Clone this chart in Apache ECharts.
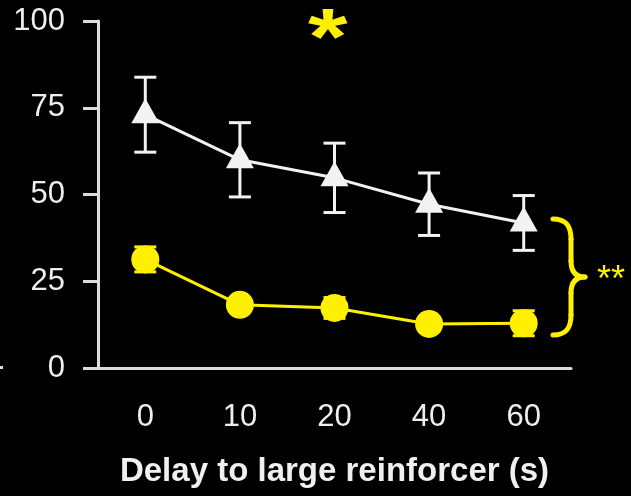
<!DOCTYPE html>
<html>
<head>
<meta charset="utf-8">
<script src="https://cdn.jsdelivr.net/npm/echarts@6/dist/echarts.min.js"></script>
<style>
html,body{margin:0;padding:0;background:#000;}
#chart{width:631px;height:496px;}
</style>
</head>
<body>
<div id="chart"></div>
<script>
const categories = ['0', '10', '20', '40', '60'];
const whiteMean = [73, 60, 54.8, 47.2, 41.8];
const whiteErr = [10.8, 10.7, 10, 9, 7.9];
const yellowMean = [31.3, 18.2, 17.3, 12.7, 12.9];
const yellowErr = [3.6, 2, 3, 2, 3.6];
const xTitle = 'Delay to large reinforcer (s)';

const WHITE = '#f2f2f2';
const YELLOW = '#fff000';
const AXIS = '#dcdcdc';

const chart = echarts.init(document.getElementById('chart'));

function errData(mean, err) {
  return mean.map((m, i) => [i, m - err[i], m + err[i]]);
}
function errRender(color) {
  return function (params, api) {
    const x = api.value(0);
    const lo = api.coord([x, api.value(1)]);
    const hi = api.coord([x, api.value(2)]);
    const half = 11;
    const style = { stroke: color, lineWidth: 3, fill: null };
    return {
      type: 'group',
      children: [
        { type: 'line', shape: { x1: lo[0], y1: lo[1], x2: hi[0], y2: hi[1] }, style },
        { type: 'line', shape: { x1: lo[0] - half, y1: lo[1], x2: lo[0] + half, y2: lo[1] }, style },
        { type: 'line', shape: { x1: hi[0] - half, y1: hi[1], x2: hi[0] + half, y2: hi[1] }, style }
      ]
    };
  };
}

const braceStyle = { stroke: YELLOW, lineWidth: 5, fill: null, lineCap: 'round' };
function bez(x1, y1, c1x, c1y, c2x, c2y, x2, y2) {
  return { type: 'bezierCurve', shape: { x1, y1, cpx1: c1x, cpy1: c1y, cpx2: c2x, cpy2: c2y, x2, y2 }, style: braceStyle, z: 10 };
}
function seg(x1, y1, x2, y2) {
  return { type: 'line', shape: { x1, y1, x2, y2 }, style: braceStyle, z: 10 };
}

const option = {
  backgroundColor: '#000',
  animation: false,
  grid: { left: 98, right: 60, top: 21, bottom: 128, containLabel: false },
  xAxis: {
    type: 'category',
    data: categories,
    boundaryGap: true,
    axisLine: { lineStyle: { color: AXIS, width: 3 } },
    axisTick: { alignWithLabel: true, length: 14, lineStyle: { color: AXIS, width: 3 } },
    axisLabel: { color: '#eeeeee', fontSize: 31, fontFamily: 'Liberation Sans', margin: 34 },
    name: xTitle,
    nameLocation: 'middle',
    nameGap: 87,
    nameTextStyle: { color: '#f0f0f0', fontSize: 33, fontWeight: 'bold', fontFamily: 'Liberation Sans' }
  },
  yAxis: {
    type: 'value',
    min: 0, max: 100, interval: 25,
    splitLine: { show: false },
    axisLine: { show: true, lineStyle: { color: AXIS, width: 3 } },
    axisTick: { show: true, length: 15, lineStyle: { color: AXIS, width: 3 } },
    axisLabel: { color: '#eeeeee', fontSize: 31, fontFamily: 'Liberation Sans', margin: 33 }
  },
  series: [
    {
      type: 'custom',
      renderItem: errRender(WHITE),
      data: errData(whiteMean, whiteErr),
      z: 2
    },
    {
      type: 'line',
      data: whiteMean,
      symbol: 'triangle',
      symbolSize: [28, 25],
      symbolOffset: [0, -4],
      lineStyle: { color: WHITE, width: 3 },
      itemStyle: { color: WHITE },
      z: 3
    },
    {
      type: 'custom',
      renderItem: errRender(YELLOW),
      data: errData(yellowMean, yellowErr),
      z: 2
    },
    {
      type: 'line',
      data: yellowMean,
      symbol: 'circle',
      symbolSize: 28,
      lineStyle: { color: YELLOW, width: 3 },
      itemStyle: { color: YELLOW },
      z: 3
    }
  ],
  graphic: [
    {
      type: 'text', x: 308, y: 2, scaleX: 1.27,
      style: { text: '*', fill: YELLOW, fontSize: 80, fontWeight: 'bold', fontFamily: 'Liberation Sans' }
    },
    bez(553, 219, 567, 219, 571, 227, 571, 239),
    seg(571, 239, 571, 261),
    bez(571, 261, 571, 271, 575, 277, 585, 277),
    bez(585, 277, 575, 277, 571, 283, 571, 293),
    seg(571, 293, 571, 315),
    bez(571, 315, 571, 327, 567, 335, 553, 335),
    {
      type: 'text', x: 597, y: 263,
      style: { text: '**', fill: YELLOW, fontSize: 36, fontFamily: 'Liberation Sans' }
    },
    {
      type: 'rect', shape: { x: 0, y: 366, width: 3, height: 3 },
      style: { fill: '#dddddd' }
    }
  ]
};
chart.setOption(option);
</script>
</body>
</html>
